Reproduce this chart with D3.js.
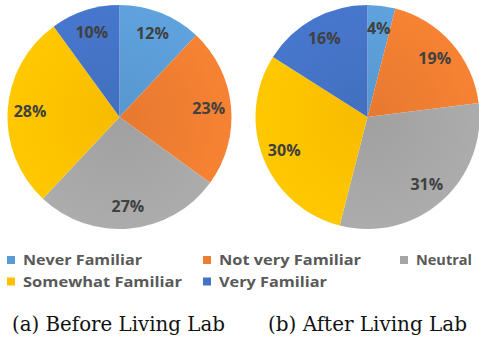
<!DOCTYPE html>
<html><head><meta charset="utf-8">
<script src="https://cdn.jsdelivr.net/npm/d3@7"></script>
<style>body{margin:0;background:#fff}svg{display:block}</style>
</head><body>
<script>
const categories = ["Never Familiar","Not very Familiar","Neutral","Somewhat Familiar","Very Familiar"];
const beforeValues = [12,23,27,28,10];
const afterValues = [4,19,31,30,16];
const captions = ["(a) Before Living Lab","(b) After Living Lab"];
const colors = ["#5B9BD5","#ED7D31","#A5A5A5","#FFC000","#4472C4"];

const W=479,H=340;
const svg=d3.select("body").append("svg").attr("width",W).attr("height",H);
const defs=svg.append("defs");
colors.forEach((c,i)=>{
  const g=defs.append("radialGradient").attr("id","g"+i).attr("gradientUnits","userSpaceOnUse")
    .attr("cx",0).attr("cy",0).attr("r",112);
  g.append("stop").attr("offset","0%").attr("stop-color",d3.color(c).darker(0.08));
  g.append("stop").attr("offset","100%").attr("stop-color",d3.color(c).brighter(0.12));
});
const color=d3.scaleOrdinal().domain(categories).range(colors);
const pie=d3.pie().sort(null).value(d=>d.v);
const R=112;
const arc=d3.arc().innerRadius(0).outerRadius(R);
const labelArc=d3.arc().innerRadius(R*0.8).outerRadius(R*0.8);

function drawPie(cx,cy,vals){
  const g=svg.append("g").attr("transform",`translate(${cx},${cy})`);
  const data=pie(categories.map((c,i)=>({c,v:vals[i],i})));
  g.selectAll("path").data(data).join("path")
    .attr("d",arc).attr("fill",d=>`url(#g${d.data.i})`);
  g.selectAll("text").data(data).join("text")
    .attr("transform",d=>`translate(${labelArc.centroid(d)})`)
    .attr("text-anchor","middle").attr("dy","0.36em")
    .attr("font-family","'Open Sans',sans-serif").attr("font-weight","bold")
    .attr("font-size",16).attr("fill","#404040")
    .text(d=>d.data.v+"%");
}
drawPie(119.5,117,beforeValues);
drawPie(367.5,117,afterValues);

// legend
const legPos=[[7,260.5],[203,260.5],[400,260.5],[7,282],[203,282]];
const legWidths=[119,142,56,159,108];
categories.forEach((c,i)=>{
  const [x,y]=legPos[i];
  svg.append("rect").attr("x",x).attr("y",y-4.5).attr("width",8).attr("height",8).attr("fill",color(c));
  svg.append("text").attr("x",x+16).attr("y",y+4.8)
    .attr("font-family","'Open Sans',sans-serif").attr("font-weight","bold").attr("font-size",13.5)
    .attr("fill","#595959").attr("textLength",legWidths[i]).attr("lengthAdjust","spacingAndGlyphs").text(c);
});
// captions
const capX=[12,268],capW=[213,199];
captions.forEach((t,i)=>{
  svg.append("text").attr("x",capX[i]).attr("y",331)
    .attr("font-family","'DejaVu Serif',serif").attr("font-size",20).attr("fill","#111")
    .attr("textLength",capW[i]).attr("lengthAdjust","spacingAndGlyphs").text(t);
});
</script>
</body></html>
